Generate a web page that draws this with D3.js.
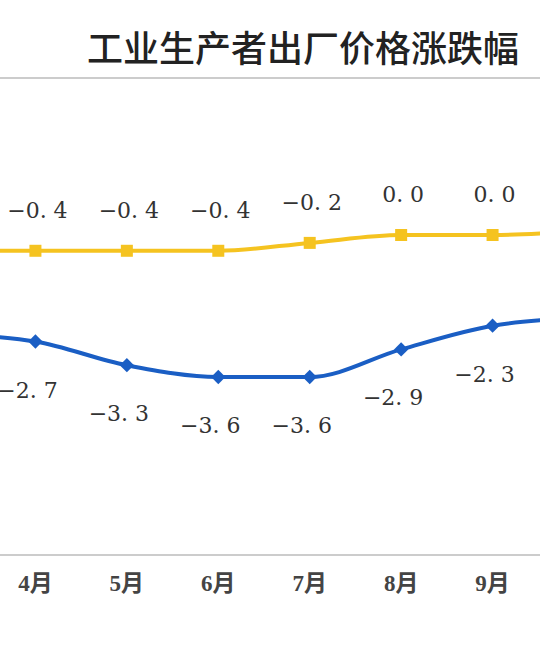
<!DOCTYPE html>
<html><head><meta charset="utf-8">
<script src="https://cdn.jsdelivr.net/npm/d3@7"></script>
<style>body{margin:0;background:#fff}svg{display:block}</style>
</head><body><svg id="c" width="540" height="650"></svg>
<script>
const months=["3月","4月","5月","6月","7月","8月","9月","10月"];
const yoy=[-2.5,-2.7,-3.3,-3.6,-3.6,-2.9,-2.3,-2.1];
const mom=[-0.4,-0.4,-0.4,-0.4,-0.2,0.0,0.0,0.1];
const title="工业生产者出厂价格涨跌幅";
const svg=d3.select("#c");
const x=d3.scalePoint().domain(months).range([-56,584]);
const y=d3.scaleLinear().domain([0,-3.6]).range([235,377]);
const vis=(d,i)=>i>0&&i<months.length-1;
svg.append("text").attr("x",87).attr("y",62).attr("font-family","Noto Sans CJK SC").attr("font-weight","500").attr("font-size",36).attr("fill","#222").text(title);
svg.append("line").attr("x1",0).attr("x2",540).attr("y1",78).attr("y2",78).attr("stroke","#bbb").attr("stroke-width",1.5);
svg.append("line").attr("x1",0).attr("x2",540).attr("y1",555).attr("y2",555).attr("stroke","#bbb").attr("stroke-width",1.5);
svg.selectAll(".ml").data(months.filter(vis)).join("text").attr("x",d=>x(d)).attr("y",591).attr("text-anchor","middle")
 .attr("font-family","Liberation Serif, Noto Sans CJK SC").attr("font-weight","bold").attr("font-size",23).attr("fill","#444").text(d=>d);
const line=d3.line().x((d,i)=>x(months[i])).y(d=>y(d)).curve(d3.curveMonotoneX);
svg.append("path").attr("d",line(yoy)).attr("fill","none").attr("stroke","#1a5ec4").attr("stroke-width",4);
svg.append("path").attr("d",line(mom)).attr("fill","none").attr("stroke","#f5c320").attr("stroke-width",4);
svg.selectAll(".dm").data(yoy).join("path").attr("transform",(d,i)=>`translate(${x(months[i])},${y(d)})`)
 .attr("d",d3.symbol(d3.symbolDiamond2,130)).attr("fill","#1a5ec4");
svg.selectAll(".sq").data(mom).join("rect").attr("x",(d,i)=>x(months[i])-6).attr("y",d=>y(d)-6).attr("width",12).attr("height",12).attr("fill","#f5c320");
const lab=v=>(v<0?"−":"")+Math.abs(v).toFixed(1).split("").join(" ").replace(" . ",". ");
const mi=mom.map((d,i)=>[d,i]).filter(([d,i])=>vis(d,i));
const yi=yoy.map((d,i)=>[d,i]).filter(([d,i])=>vis(d,i));
svg.selectAll(".yl").data(mi).join("text").attr("x",([d,i])=>x(months[i])+2).attr("y",([d])=>y(d)-33).attr("text-anchor","middle")
 .attr("font-family","DejaVu Serif").attr("font-size",22).attr("fill","#333").text(([d])=>lab(d));
svg.selectAll(".bl").data(yi).join("text").attr("x",([d,i])=>x(months[i])-8).attr("y",([d])=>y(d)+56).attr("text-anchor","middle")
 .attr("font-family","DejaVu Serif").attr("font-size",22).attr("fill","#333").text(([d])=>lab(d));
</script></body></html>
